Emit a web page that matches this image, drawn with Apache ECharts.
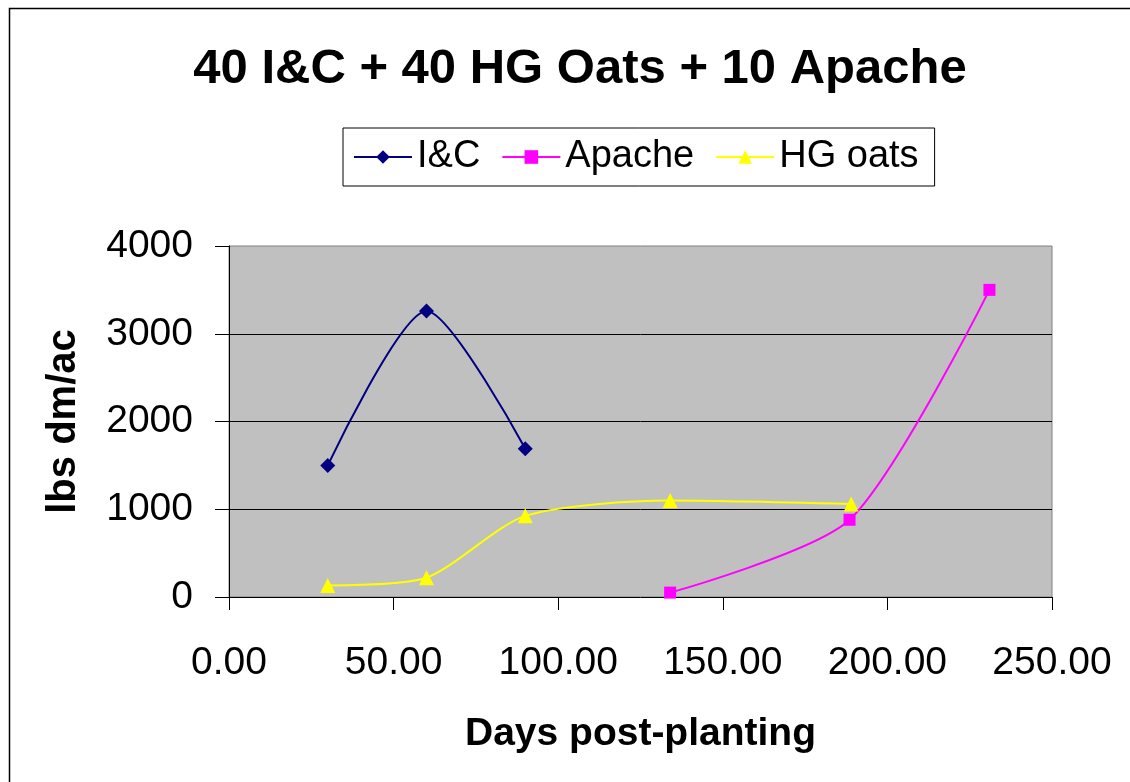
<!DOCTYPE html>
<html><head><meta charset="utf-8">
<script src="https://cdn.jsdelivr.net/npm/echarts@6/dist/echarts.min.js"></script>
<style>html,body{margin:0;padding:0;background:#fff}#c{width:1130px;height:782px}</style>
</head><body><div id="c"></div>
<script>
const icDays = [30, 60, 90];
const icValues = [1500, 3260, 1690];
const apacheDays = [134, 188.5, 231];
const apacheValues = [50, 880, 3500];
const oatsDays = [30, 60, 90, 134, 189];
const oatsValues = [130, 220, 925, 1100, 1060];
const seriesNames = ['I&C', 'Apache', 'HG oats'];

const zip = (a, b) => a.map((v, i) => [v, b[i]]);
const F = 'Liberation Sans, Arial, sans-serif';

const chart = echarts.init(document.getElementById('c'));
chart.setOption({
  animation: false,
  backgroundColor: '#fff',
  title: {
    text: '40 I&C + 40 HG Oats + 10 Apache',
    left: 575, top: 40, textAlign: 'center',
    textStyle: { fontFamily: F, fontSize: 49, fontWeight: 'bold', color: '#000' }
  },
  legend: {
    left: 343, top: 128,
    borderColor: '#000', borderWidth: 1, padding: [10, 16, 10, 10],
    itemGap: 21, itemWidth: 58, itemHeight: 17,
    data: seriesNames,
    textStyle: { fontFamily: F, fontSize: 38, color: '#000' }
  },
  graphic: [{
    type: 'rect', left: 7, top: 6, silent: true,
    shape: { width: 1140, height: 800 },
    style: { fill: 'none', stroke: '#000', lineWidth: 1.5 }
  }],
  grid: {
    left: 229, top: 246, right: 78, bottom: 185,
    show: true, backgroundColor: '#c0c0c0', borderColor: '#808080', borderWidth: 1
  },
  xAxis: {
    type: 'value', min: 0, max: 250, interval: 50,
    name: 'Days post-planting', nameLocation: 'middle', nameGap: 118,
    nameTextStyle: { fontFamily: F, fontSize: 39, fontWeight: 'bold', color: '#000' },
    axisLine: { show: true, lineStyle: { color: '#000', width: 1 } },
    axisTick: { show: true, length: 13, lineStyle: { color: '#000' } },
    axisLabel: { margin: 47, fontFamily: F, fontSize: 39, color: '#000',
      formatter: v => v.toFixed(2) },
    splitLine: { show: false }
  },
  yAxis: {
    type: 'value', min: 0, max: 4000, interval: 1000,
    name: 'lbs dm/ac', nameLocation: 'middle', nameGap: 145, nameRotate: 90,
    nameTextStyle: { fontFamily: F, fontSize: 40, fontWeight: 'bold', color: '#000' },
    axisLine: { show: true, lineStyle: { color: '#000', width: 1 } },
    axisTick: { show: true, length: 14, lineStyle: { color: '#000' } },
    axisLabel: { margin: 36, fontFamily: F, fontSize: 39, color: '#000',
      formatter: v => String(v) },
    splitLine: { show: true, showMinLine: false, showMaxLine: false, lineStyle: { color: '#000', width: 1 } }
  },
  series: [
    { name: seriesNames[0], type: 'line', data: zip(icDays, icValues), smooth: 0.25,
      symbol: 'diamond', symbolSize: 15, color: '#000080',
      lineStyle: { width: 2, color: '#000080' }, itemStyle: { color: '#000080' } },
    { name: seriesNames[1], type: 'line', data: zip(apacheDays, apacheValues), smooth: 0.25,
      symbol: 'rect', symbolSize: 12, color: '#ff00ff',
      lineStyle: { width: 2, color: '#ff00ff' }, itemStyle: { color: '#ff00ff' } },
    { name: seriesNames[2], type: 'line', data: zip(oatsDays, oatsValues), smooth: 0.25,
      symbol: 'triangle', symbolSize: 15, color: '#ffff00',
      lineStyle: { width: 2, color: '#ffff00' }, itemStyle: { color: '#ffff00' } }
  ]
});
</script></body></html>
